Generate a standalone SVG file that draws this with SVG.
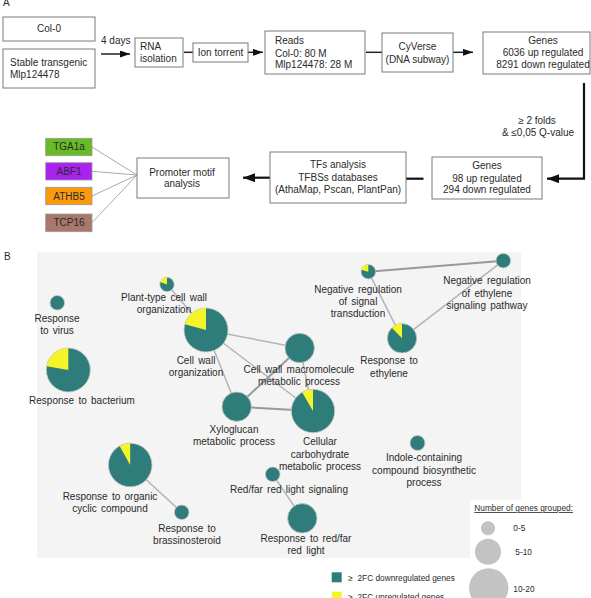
<svg xmlns="http://www.w3.org/2000/svg" width="591" height="598" viewBox="0 0 591 598">
<defs>
<style>
text{font-family:"Liberation Sans",Arial,sans-serif;fill:#2a2a2a;}
.t{font-size:10px;}
.c{text-anchor:middle;}
.box{fill:#fff;stroke:#7a7a7a;stroke-width:1;}
.ln{stroke:#222;stroke-width:1.5;fill:none;}
.thk{stroke:#111;stroke-width:2.2;fill:none;}
.tf{stroke:#aaa;stroke-width:1;fill:none;}
.lb{font-size:10px;word-spacing:1.5px;text-anchor:middle;}
.e1{stroke:#b4b4b4;stroke-width:1.5;fill:none;}
.e2{stroke:#999;stroke-width:2;fill:none;}
.teal{fill:#2e7d7a;stroke:#c8c8c8;stroke-width:0.8;}
.yel{fill:#f4f42a;}
.lg{font-size:8.3px;}
.gc{fill:#c3c3c3;}
</style>
<marker id="ah" markerUnits="userSpaceOnUse" markerWidth="10" markerHeight="7" refX="10" refY="3.5" orient="auto">
<path d="M0,0 L10,3.5 L0,7 z" fill="#111"/>
</marker>
<marker id="ah2" markerUnits="userSpaceOnUse" markerWidth="12" markerHeight="9" refX="12" refY="4.5" orient="auto">
<path d="M0,0 L12,4.5 L0,9 z" fill="#111"/>
</marker>
</defs>
<rect width="591" height="598" fill="#fff"/>

<!-- Panel A -->
<text class="t" x="3" y="6">A</text>

<g id="connectors-a">
<line class="ln" x1="101" y1="54" x2="130" y2="54" marker-end="url(#ah)"/>
<line class="ln" x1="184" y1="52.3" x2="193" y2="52.3"/>
<line class="ln" x1="248" y1="52.3" x2="263" y2="52.3" marker-end="url(#ah)"/>
<line class="ln" x1="366" y1="52.3" x2="382" y2="52.3"/>
<line class="ln" x1="453" y1="52.3" x2="473" y2="52.3" marker-end="url(#ah)"/>
<polyline class="thk" points="584,83 584,178.7 547,178.7" marker-end="url(#ah2)"/>
<line class="thk" x1="406" y1="178.7" x2="423.5" y2="178.7"/>
<line class="thk" x1="270" y1="177.7" x2="243" y2="177.7" marker-end="url(#ah2)"/>
<line class="tf" x1="92" y1="147" x2="137" y2="175"/>
<line class="tf" x1="92" y1="171.3" x2="137" y2="175"/>
<line class="tf" x1="92" y1="196" x2="137" y2="175"/>
<line class="tf" x1="92" y1="222.7" x2="137" y2="175"/>
</g>
<text class="t" x="101" y="43.5">4 days</text>
<text class="t c" x="537" y="123.5">≥ 2 folds</text>
<text class="t c" x="538" y="135.5">&amp; ≤0,05 Q-value</text>

<g id="col0">
<rect class="box" x="3" y="17" width="92" height="24"/>
<text class="t c" x="49" y="32">Col-0</text>
</g>
<g id="transgenic">
<rect class="box" x="3" y="49" width="92" height="39"/>
<text class="t" x="10" y="66">Stable transgenic</text>
<text class="t" x="10" y="78">Mlp124478</text>
</g>
<g id="rna">
<rect class="box" x="135" y="38" width="48" height="29"/>
<text class="t" x="140" y="49.5">RNA</text>
<text class="t" x="140" y="62">isolation</text>
</g>
<g id="ion">
<rect class="box" x="193" y="43" width="55" height="19"/>
<text class="t c" x="220.5" y="56">Ion torrent</text>
</g>
<g id="reads">
<rect class="box" x="265" y="31" width="100" height="43"/>
<text class="t" x="275" y="44">Reads</text>
<text class="t" x="275" y="56.5">Col-0: 80 M</text>
<text class="t" x="275" y="68">Mlp124478: 28 M</text>
</g>
<g id="cyverse">
<rect class="box" x="382" y="33" width="71" height="39"/>
<text class="t c" x="417.5" y="49.5">CyVerse</text>
<text class="t c" x="417.5" y="62.5">(DNA subway)</text>
</g>
<g id="genes1">
<rect class="box" x="483" y="32" width="107" height="42"/>
<text class="t c" x="543" y="44">Genes</text>
<text class="t c" x="543" y="56">6036 up regulated</text>
<text class="t c" x="543" y="68">8291 down regulated</text>
</g>
<g id="genes2">
<rect class="box" x="432" y="157" width="110" height="42"/>
<text class="t c" x="487" y="169">Genes</text>
<text class="t c" x="487" y="181.5">98 up regulated</text>
<text class="t c" x="487" y="193">294 down regulated</text>
</g>
<g id="tfs">
<rect class="box" x="270" y="152" width="136" height="51"/>
<text class="t c" x="338" y="168">TFs analysis</text>
<text class="t c" x="338" y="181">TFBSs databases</text>
<text class="t c" x="338" y="193">(AthaMap, Pscan, PlantPan)</text>
</g>
<g id="promoter">
<rect class="box" x="137" y="158" width="92" height="40"/>
<text class="t c" x="182" y="175.5">Promoter motif</text>
<text class="t c" x="182" y="187">analysis</text>
</g>
<g id="tga1a">
<rect x="45.7" y="138.3" width="46.3" height="17.4" fill="#68bb24" stroke="#999" stroke-width="0.8"/>
<text class="t c" x="69" y="150.3">TGA1a</text>
</g>
<g id="abf1">
<rect x="45.7" y="162.7" width="46.3" height="17.3" fill="#a823ef" stroke="#999" stroke-width="0.8"/>
<text class="t c" x="69" y="175">ABF1</text>
</g>
<g id="athb5">
<rect x="45.7" y="187.3" width="46.3" height="17.4" fill="#fb9a0c" stroke="#999" stroke-width="0.8"/>
<text class="t c" x="69" y="199.6">ATHB5</text>
</g>
<g id="tcp16">
<rect x="45.7" y="214" width="46.3" height="17.7" fill="#a8786a" stroke="#999" stroke-width="0.8"/>
<text class="t c" x="69" y="226.4">TCP16</text>
</g>

<!-- Panel B -->
<text class="t" x="4" y="260">B</text>
<rect x="37" y="252" width="484" height="306" fill="#f4f4f4"/>
<rect x="470" y="500" width="121" height="98" fill="#fff"/>

<g id="connectors-b">
<line class="e1" x1="167" y1="284.5" x2="206" y2="330"/>
<line class="e1" x1="206" y1="330" x2="299.7" y2="348"/>
<line class="e1" x1="206" y1="330" x2="236.7" y2="406.7"/>
<line class="e1" x1="206" y1="330" x2="313" y2="411"/>
<line class="e2" x1="299.7" y1="348" x2="236.7" y2="406.7"/>
<line class="e1" x1="299.7" y1="348" x2="313" y2="411"/>
<line class="e2" x1="236.7" y1="406.7" x2="313" y2="411"/>
<line class="e2" x1="368.3" y1="271.7" x2="503.3" y2="260.7"/>
<line class="e1" x1="368.3" y1="271.7" x2="402" y2="338.3"/>
<line class="e1" x1="402" y1="338.3" x2="503.3" y2="260.7"/>
<line class="e1" x1="130.2" y1="465" x2="181.7" y2="512.3"/>
<line class="e1" x1="272.7" y1="474.3" x2="302.3" y2="518.3"/>
</g>

<g id="response-virus">
<circle class="teal" cx="57.3" cy="302.8" r="7.3"/>
<text class="lb" x="57" y="321.5">Response</text>
<text class="lb" x="57" y="333.5">to virus</text>
</g>
<g id="response-bacterium">
<circle class="teal" cx="68.3" cy="370" r="22"/>
<path class="yel" d="M68.3,370 L46.6,366.2 A22,22 0 0 1 68.3,348 Z"/>
<text class="lb" x="82" y="404">Response to bacterium</text>
</g>
<g id="plant-type">
<circle class="teal" cx="167" cy="284.5" r="7.2"/>
<path class="yel" d="M167,284.5 L160.2,282 A7.2,7.2 0 0 1 167,277.3 Z"/>
<text class="lb" x="164" y="300.5">Plant-type  cell wall</text>
<text class="lb" x="164" y="312.5">organization</text>
</g>
<g id="cell-wall-org">
<circle class="teal" cx="206" cy="330" r="22"/>
<path class="yel" d="M206,330 L184.8,324.3 A22,22 0 0 1 206,308 Z"/>
<text class="lb" x="196" y="363.5">Cell wall</text>
<text class="lb" x="196" y="375.5">organization</text>
</g>
<g id="cell-wall-macro">
<circle class="teal" cx="299.7" cy="348" r="14.7"/>
<text class="lb" x="299" y="373">Cell wall macromolecule</text>
<text class="lb" x="299" y="385">metabolic process</text>
</g>
<g id="xyloglucan">
<circle class="teal" cx="236.7" cy="406.7" r="14.7"/>
<text class="lb" x="234" y="432.5">Xyloglucan</text>
<text class="lb" x="234" y="445">metabolic process</text>
</g>
<g id="cellular-carb">
<circle class="teal" cx="313" cy="411" r="21.7"/>
<path class="yel" d="M313,411 L302.1,392.2 A21.7,21.7 0 0 1 313,389.3 Z"/>
<text class="lb" x="320" y="445">Cellular</text>
<text class="lb" x="320" y="457.5">carbohydrate</text>
<text class="lb" x="320" y="470">metabolic process</text>
</g>
<g id="neg-signal">
<circle class="teal" cx="368.3" cy="271.7" r="7.3"/>
<path class="yel" d="M368.3,271.7 L361.2,269.8 A7.3,7.3 0 0 1 368.3,264.4 Z"/>
<text class="lb" x="358" y="292.5">Negative regulation</text>
<text class="lb" x="358" y="304.5">of signal</text>
<text class="lb" x="358" y="317">transduction</text>
</g>
<g id="neg-ethylene">
<circle class="teal" cx="503.3" cy="260.7" r="7.3"/>
<text class="lb" x="487" y="284">Negative regulation</text>
<text class="lb" x="487" y="296.5">of ethylene</text>
<text class="lb" x="487" y="309">signaling pathway</text>
</g>
<g id="response-ethylene">
<circle class="teal" cx="402" cy="338.3" r="14.7"/>
<path class="yel" d="M402,338.3 L391.8,327.7 A14.7,14.7 0 0 1 402,323.6 Z"/>
<text class="lb" x="389" y="364">Response to</text>
<text class="lb" x="389" y="376.5">ethylene</text>
</g>
<g id="indole">
<circle class="teal" cx="417.5" cy="443" r="7.5"/>
<text class="lb" x="424" y="461">Indole-containing</text>
<text class="lb" x="424" y="473.5">compound  biosynthetic</text>
<text class="lb" x="424" y="486">process</text>
</g>
<g id="organic-cyclic">
<circle class="teal" cx="130.2" cy="465" r="21.8"/>
<path class="yel" d="M130.2,465 L119.6,445.9 A21.8,21.8 0 0 1 130.2,443.2 Z"/>
<text class="lb" x="110" y="499.5">Response to organic</text>
<text class="lb" x="110" y="512">cyclic compound</text>
</g>
<g id="brassinosteroid">
<circle class="teal" cx="181.7" cy="512.3" r="7.3"/>
<text class="lb" x="187" y="531.5">Response to</text>
<text class="lb" x="187" y="544">brassinosteroid</text>
</g>
<g id="red-far-signaling">
<circle class="teal" cx="272.7" cy="474.3" r="7.3"/>
<text class="lb" x="289" y="492.5">Red/far red light signaling</text>
</g>
<g id="response-red-far">
<circle class="teal" cx="302.3" cy="518.3" r="14.7"/>
<text class="lb" x="306" y="541.5">Response to red/far</text>
<text class="lb" x="306" y="554">red light</text>
</g>

<g id="legend">
<text class="lg" x="474.3" y="511" text-decoration="underline">Number of genes grouped:</text>
<circle class="gc" cx="488" cy="528.3" r="7"/>
<text class="lg" x="513.3" y="530.5">0-5</text>
<circle class="gc" cx="488" cy="551.8" r="13"/>
<text class="lg" x="515.3" y="554.5">5-10</text>
<circle class="gc" cx="488.7" cy="588" r="19.7"/>
<text class="lg" x="513.3" y="591.5">10-20</text>
<rect x="331.7" y="572.3" width="10" height="10" fill="#2e7d7a"/>
<text class="lg" x="348.3" y="580.5" xml:space="preserve">≥  2FC downregulated genes</text>
<rect x="331.7" y="591.7" width="10" height="10" fill="#f4f42a"/>
<text class="lg" x="348.3" y="599.5" xml:space="preserve">≥  2FC upregulated genes</text>
</g>
</svg>
